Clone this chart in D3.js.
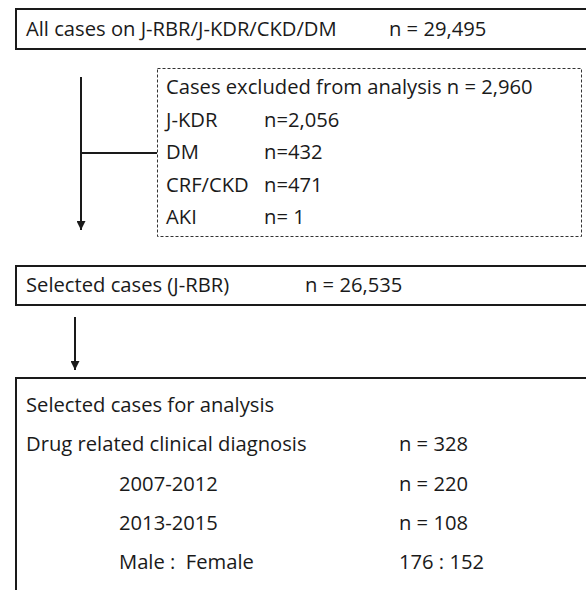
<!DOCTYPE html>
<html><head><meta charset="utf-8">
<script src="https://cdn.jsdelivr.net/npm/d3@7"></script>
<style>body{margin:0;background:#fff}svg{display:block}text{white-space:pre}</style>
</head><body>
<script>
// ---- data ----
const topLabel = "All cases on J-RBR/J-KDR/CKD/DM";
const topValue = "n = 29,495";
const excludedTitle = "Cases excluded from analysis n = 2,960";
const excludedCats = ["J-KDR", "DM", "CRF/CKD", "AKI"];
const excludedVals = ["n=2,056", "n=432", "n=471", "n= 1"];
const selectedLabel = "Selected cases (J-RBR)";
const selectedValue = "n = 26,535";
const finalLabels = ["Selected cases for analysis", "Drug related clinical diagnosis", "2007-2012", "2013-2015", "Male :  Female"];
const finalVals = ["", "n = 328", "n = 220", "n = 108", "176 : 152"];
const finalIndent = [0, 0, 1, 1, 1];

const W = 586, H = 590;
const svg = d3.select("body").append("svg").attr("width", W).attr("height", H);
const font = "'Open Sans', sans-serif";
const fs = 20.2;
const ink = "#1a1a1a";

svg.append("defs").append("marker").attr("id","ah").attr("viewBox","0 0 10 10")
  .attr("refX",10).attr("refY",5).attr("markerWidth",4.5).attr("markerHeight",4.5)
  .attr("markerUnits","strokeWidth").attr("orient","auto")
  .append("path").attr("d","M0,0L10,5L0,10z").attr("fill",ink);

function txt(x, y, s) {
  svg.append("text").attr("x", x).attr("y", y).attr("font-family", font)
    .attr("font-size", fs).attr("fill", ink).text(s);
}

// top box
svg.append("rect").attr("x",16).attr("y",9).attr("width",620).attr("height",40)
  .attr("fill","none").attr("stroke",ink).attr("stroke-width",2);
txt(26, 36, topLabel);
txt(389, 36, topValue);

// excluded dashed box
svg.append("rect").attr("x",157.5).attr("y",68.5).attr("width",424).attr("height",168)
  .attr("fill","none").attr("stroke","#333").attr("stroke-width",1).attr("stroke-dasharray","3,2");
const yEx = d3.scalePoint().domain(d3.range(excludedCats.length + 1)).range([94, 224]);
txt(166, yEx(0), excludedTitle);
excludedCats.forEach((c, i) => { txt(166, yEx(i+1), c); txt(264, yEx(i+1), excludedVals[i]); });

// arrow 1 + connector
svg.append("line").attr("x1",81).attr("y1",77).attr("x2",81).attr("y2",230)
  .attr("stroke",ink).attr("stroke-width",2).attr("marker-end","url(#ah)");
svg.append("line").attr("x1",81).attr("y1",153).attr("x2",157).attr("y2",153)
  .attr("stroke",ink).attr("stroke-width",2);

// selected box
svg.append("rect").attr("x",16).attr("y",266).attr("width",620).attr("height",39)
  .attr("fill","none").attr("stroke",ink).attr("stroke-width",2);
txt(26, 292, selectedLabel);
txt(305, 292, selectedValue);

// arrow 2
svg.append("line").attr("x1",75).attr("y1",317).attr("x2",75).attr("y2",370)
  .attr("stroke",ink).attr("stroke-width",2).attr("marker-end","url(#ah)");

// final box
svg.append("rect").attr("x",16).attr("y",378).attr("width",620).attr("height",260)
  .attr("fill","none").attr("stroke",ink).attr("stroke-width",2);
const yFin = d3.scalePoint().domain(d3.range(finalLabels.length)).range([412, 569]);
finalLabels.forEach((l, i) => {
  txt(finalIndent[i] ? 119 : 26, yFin(i), l);
  if (finalVals[i]) txt(399, yFin(i), finalVals[i]);
});
</script>
</body></html>
